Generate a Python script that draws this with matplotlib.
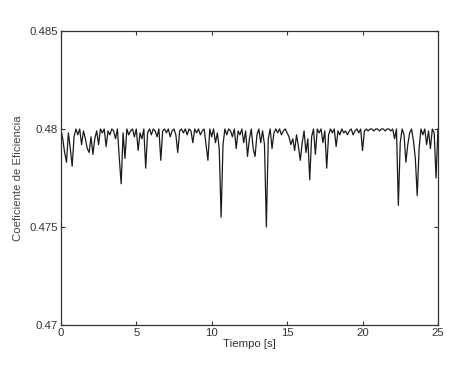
import matplotlib.pyplot as plt
import numpy as np

# sample times (s), one value every 0.125 s
tiempo = np.arange(201) * 0.125

# efficiency coefficient, 8 samples per second
eficiencia = [
    0.4800, 0.4795, 0.4788, 0.4783, 0.4798, 0.4790, 0.4781, 0.4796,
    0.4800, 0.4797, 0.4800, 0.4792, 0.4799, 0.4795, 0.4790, 0.4788,
    0.4796, 0.4787, 0.4795, 0.4799, 0.4792, 0.4800, 0.4798, 0.4800,
    0.4791, 0.4799, 0.4797, 0.4800, 0.4799, 0.4795, 0.4800, 0.4785,
    0.4772, 0.4798, 0.4785, 0.4800, 0.4797, 0.4799, 0.4800, 0.4796,
    0.4800, 0.4789, 0.4798, 0.4795, 0.4800, 0.4780, 0.4798, 0.4800,
    0.4797, 0.4800, 0.4799, 0.4796, 0.4800, 0.4784, 0.4799, 0.4800,
    0.4798, 0.4800, 0.4796, 0.4799, 0.4800, 0.4797, 0.4788, 0.4799,
    0.4800, 0.4798, 0.4800, 0.4797, 0.4800, 0.4799, 0.4793, 0.4800,
    0.4798, 0.4800, 0.4797, 0.4799, 0.4800, 0.4792, 0.4784, 0.4800,
    0.4796, 0.4800, 0.4793, 0.4798, 0.4790, 0.4755, 0.4792, 0.4800,
    0.4797, 0.4800, 0.4799, 0.4796, 0.4800, 0.4790, 0.4799, 0.4797,
    0.4800, 0.4793, 0.4799, 0.4786, 0.4795, 0.4800, 0.4790, 0.4786,
    0.4797, 0.4800, 0.4793, 0.4799, 0.4792, 0.4750, 0.4795, 0.4800,
    0.4790, 0.4798, 0.4800, 0.4798, 0.4800, 0.4797, 0.4799, 0.4800,
    0.4798, 0.4796, 0.4792, 0.4795, 0.4789, 0.4797, 0.4791, 0.4784,
    0.4793, 0.4799, 0.4788, 0.4795, 0.4774, 0.4796, 0.4800, 0.4787,
    0.4800, 0.4798, 0.4800, 0.4793, 0.4799, 0.4780, 0.4797, 0.4800,
    0.4798, 0.4800, 0.4791, 0.4799, 0.4797, 0.4800, 0.4798, 0.4799,
    0.4797, 0.4799, 0.4800, 0.4797, 0.4799, 0.4800, 0.4798, 0.4800,
    0.4789, 0.4799, 0.4800, 0.4799, 0.4800, 0.4800, 0.4799, 0.4800,
    0.4800, 0.4799, 0.4800, 0.4800, 0.4799, 0.4800, 0.4800, 0.4799,
    0.4800, 0.4795, 0.4800, 0.4761, 0.4793, 0.4800, 0.4797, 0.4783,
    0.4792, 0.4798, 0.4800, 0.4794, 0.4785, 0.4766, 0.4790, 0.4800,
    0.4797, 0.4800, 0.4792, 0.4799, 0.4790, 0.4800, 0.4798, 0.4775,
    0.4800,
]

x_ticks = [0, 5, 10, 15, 20, 25]
y_ticks = [0.47, 0.475, 0.48, 0.485]
y_tick_labels = ['0.47', '0.475', '0.48', '0.485']

plt.rcParams['font.family'] = ['Liberation Sans', 'DejaVu Sans']

fig = plt.figure(figsize=(4.61, 3.65), dpi=100)
ax = fig.add_axes([0.132, 0.110, 0.818, 0.805])

ax.plot(tiempo, eficiencia, color='#1a1a1a', linewidth=0.9)

ax.set_xlim(0, 25)
ax.set_ylim(0.47, 0.485)
ax.set_xticks(x_ticks)
ax.set_yticks(y_ticks)
ax.set_yticklabels(y_tick_labels)
ax.tick_params(direction='in', top=True, right=True, length=3, width=0.8,
               labelsize=8.2, colors='#333333', pad=2)

for spine in ax.spines.values():
    spine.set_color('#333333')
    spine.set_linewidth(0.9)

ax.set_xlabel("Tiempo [s]", fontsize=8.2, color='#333333', labelpad=1)
ax.set_ylabel("Coeficiente de Eficiencia", fontsize=8.2, color='#444444', labelpad=5)

fig.savefig('out.png', dpi=100)
